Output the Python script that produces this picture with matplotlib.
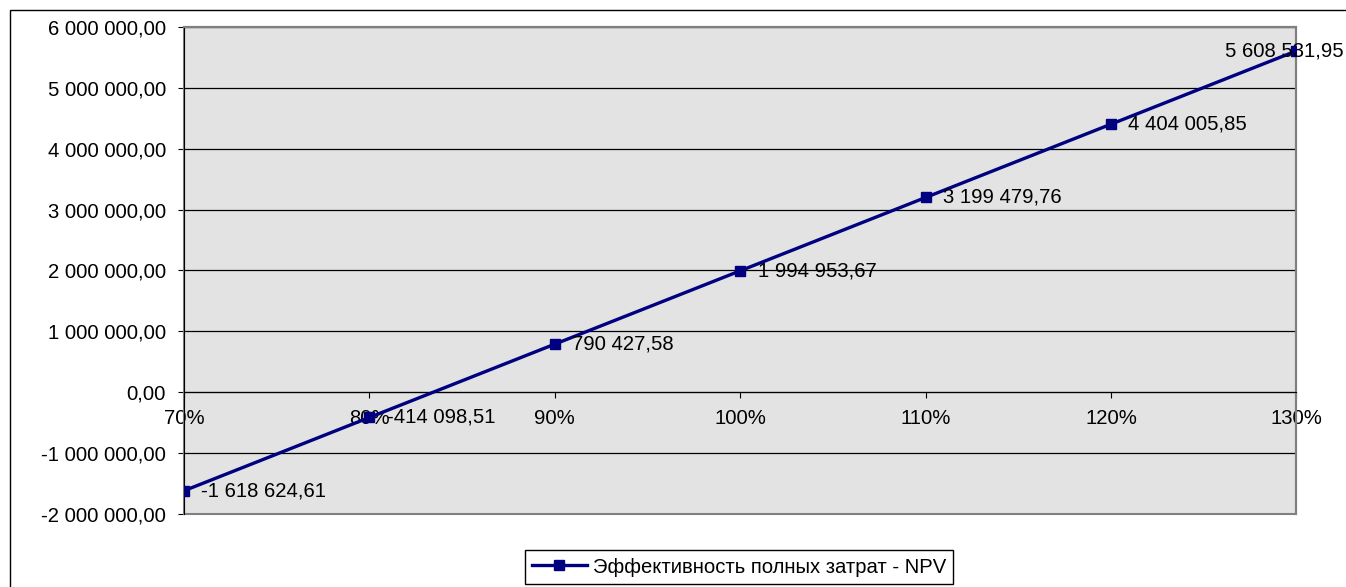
import matplotlib
matplotlib.use("Agg")
import matplotlib.pyplot as plt
from matplotlib.patches import Rectangle
from matplotlib.ticker import FuncFormatter, MultipleLocator

plt.rcParams['font.family'] = ['Liberation Sans', 'DejaVu Sans']

# данные
percent = [70, 80, 90, 100, 110, 120, 130]
npv = [-1618624.61, -414098.51, 790427.58, 1994953.67, 3199479.76, 4404005.85, 5608531.95]
series_name = "Эффективность полных затрат - NPV"

navy = '#000080'
fs = 14.6

def rus(v):
    s = f"{v:,.2f}"
    return s.replace(",", " ").replace(".", ",")

fig = plt.figure(figsize=(13.46, 5.87), dpi=100)
ax = fig.add_axes([0.1367, 0.1244, 0.8265, 0.8296])
ax.set_facecolor('#e3e3e3')

ax.plot(percent, npv, color=navy, lw=2.4, marker='s', ms=7.5, label=series_name, zorder=5)

for i, (x, y) in enumerate(zip(percent, npv)):
    if i < len(percent) - 1:
        ax.annotate(rus(y), (x, y), xytext=(12.5, 0), textcoords='offset points',
                    ha='left', va='center', fontsize=fs, zorder=6, annotation_clip=False)
    else:
        ax.annotate(rus(y), (x, y), xytext=(34, 0), textcoords='offset points',
                    ha='right', va='center', fontsize=fs, zorder=6, annotation_clip=False)

ax.set_xlim(70, 130)
ax.set_ylim(-2e6, 6e6)
ax.set_xticks(percent)
ax.set_xticklabels([f"{p}%" for p in percent])
ax.yaxis.set_major_locator(MultipleLocator(1e6))
ax.yaxis.set_major_formatter(FuncFormatter(lambda v, p: rus(v)))
ax.grid(axis='y', color='black', lw=0.9)
ax.set_axisbelow(True)

ax.spines['bottom'].set_position(('data', 0))
ax.spines['bottom'].set_color('black')
ax.spines['left'].set_color('black')
for s in ['top', 'right']:
    ax.spines[s].set_color('#808080')
    ax.spines[s].set_linewidth(1.5)
ax.add_patch(Rectangle((0, 0), 1, 1, transform=ax.transAxes, fill=False,
                       edgecolor='#808080', lw=1.5, zorder=1, clip_on=False))

ax.tick_params(axis='y', direction='out', length=4, pad=9, labelsize=fs)
ax.tick_params(axis='x', direction='out', length=4, pad=8, labelsize=fs)

leg = fig.legend(loc='center', bbox_to_anchor=(0.549, 0.034), fontsize=fs,
                 frameon=True, fancybox=False, edgecolor='black', handlelength=2.7,
                 handletextpad=0.3, borderpad=0.35, framealpha=1)
leg.get_frame().set_linewidth(1)

# рамка вокруг диаграммы
fig.add_artist(Rectangle((10 / 1346, -0.05), 1.2, 1 - 10 / 587 + 0.05,
                         transform=fig.transFigure, fill=False, edgecolor='black', lw=1))

fig.savefig("out.png", dpi=100)
